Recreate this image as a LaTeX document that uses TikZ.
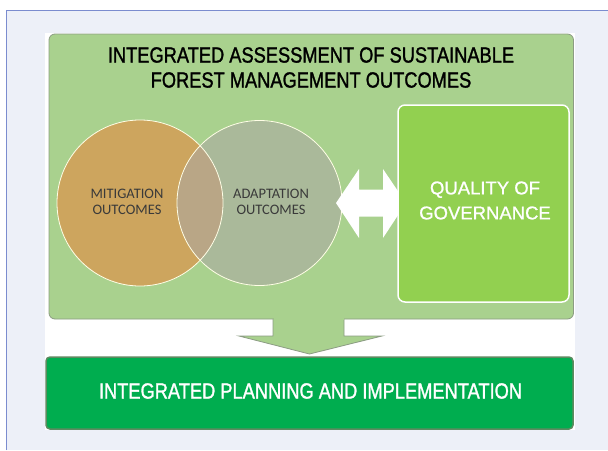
\documentclass[tikz,border=0pt]{standalone}
\usepackage{fontspec}
\setmainfont{Liberation Sans}
\newfontfamily\narrowfont{Liberation Sans}[FakeStretch=0.83,FakeBold=1.3]
\newfontfamily\qualfont{Liberation Sans}[FakeBold=1.0]
\newfontfamily\lightfont{Carlito}
\definecolor{bgc}{HTML}{EDF0F8}
\definecolor{bordc}{HTML}{7B8CCF}
\definecolor{panelg}{HTML}{A9D18E}
\definecolor{panelb}{HTML}{8C9C84}
\definecolor{orangec}{HTML}{CDA55E}
\definecolor{grayc}{RGB}{171,168,164}
\definecolor{qualg}{HTML}{92D050}
\definecolor{darkg}{HTML}{00AD4F}
\definecolor{darkgb}{HTML}{5E8A60}
\definecolor{txtgray}{HTML}{3A3A3A}
\begin{document}
\begin{tikzpicture}[x=1pt,y=-1pt,
  panel/.style={fill=panelg,draw=panelb,line width=0.8pt,rounded corners=6pt},
  circ/.style={draw=white!90!yellow,line width=0.8pt},
  ctext/.style={font=\lightfont\fontsize{14.5}{16}\selectfont,text=txtgray,align=center},
  ttext/.style={font=\narrowfont\fontsize{22}{25}\selectfont,text=black,align=center},
  qtext/.style={font=\qualfont\fontsize{18.5}{25}\selectfont,text=white,align=center},
  btext/.style={font=\narrowfont\fontsize{22}{25}\selectfont,text=white,align=center}]
\useasboundingbox (0,0) rectangle (608,450);
% background
\fill[white] (0,0) rectangle (608,450);
\fill[bgc] (6.5,10.5) rectangle (608,450);
\draw[bordc,line width=1pt] (6.5,450) -- (6.5,10.5) -- (608,10.5);
\fill[white] (45,33) rectangle (575,430);
% big panel
\draw[panel] (49,34) rectangle (573.5,319);
\node[ttext] (title) at (311,67.5) {INTEGRATED ASSESSMENT OF SUSTAINABLE\\FOREST MANAGEMENT OUTCOMES};
% circles
\fill[orangec] (140,203) circle (83);
\fill[grayc,fill opacity=0.58] (259.5,203) circle (82.5);
\draw[circ] (140,203) circle (83);
\draw[circ] (259.5,203) circle (82.5);
\node[ctext] (mit) at (127,202) {MITIGATION\\OUTCOMES};
\node[ctext] (ada) at (271,202) {ADAPTATION\\OUTCOMES};
% double arrow
\fill[white] (336,203) -- (359,169) -- (359,189.5) -- (383,189.5) -- (383,169) -- (406,203)
  -- (383,238) -- (383,216.5) -- (359,216.5) -- (359,238) -- cycle;
% quality box
\draw[fill=qualg,draw=white,line width=1.5pt,rounded corners=7pt] (398,105) rectangle (569,302);
\node[qtext] (qual) at (485,200.5) {QUALITY OF\\GOVERNANCE};
% down arrow
\filldraw[fill=panelg,draw=panelb,line width=0.8pt] (273,319) -- (273,336) -- (239,336) -- (309.5,354) -- (382,336) -- (344,336) -- (344,319);
\fill[panelg] (273.5,316) rectangle (343.5,319.5);
% bottom box
\draw[fill=darkg,draw=darkgb,line width=1.5pt,rounded corners=4pt] (46,357) rectangle (573,429);
\node[btext] (plan) at (310.5,391) {INTEGRATED PLANNING AND IMPLEMENTATION};
\end{tikzpicture}
\end{document}
